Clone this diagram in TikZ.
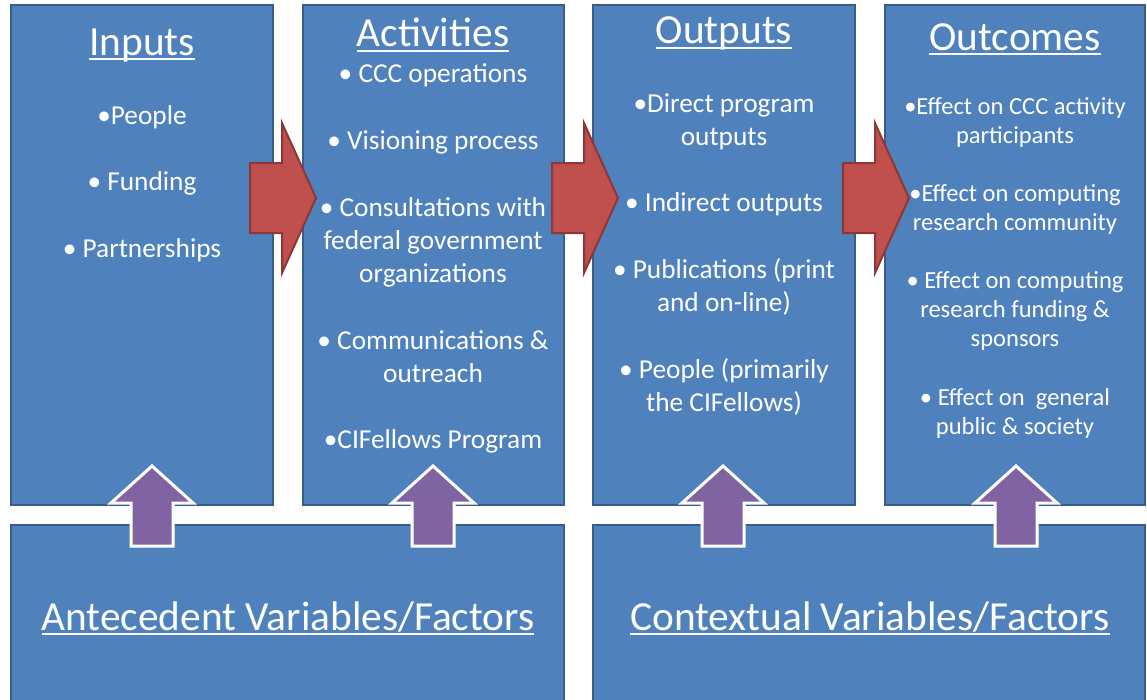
\documentclass[tikz,border=0pt]{standalone}
\usepackage{fontspec}
\setmainfont{Carlito}
\definecolor{boxblue}{HTML}{4F81BD}
\definecolor{boxedge}{HTML}{385D8A}
\definecolor{arrred}{HTML}{C0504D}
\definecolor{arredge}{HTML}{8C3836}
\definecolor{arrpurple}{HTML}{8064A2}
\newcommand{\ttlline}[1]{\setbox0\hbox{#1}\rlap{\rule[-0.13em]{\wd0}{0.055em}}\box0}
\tikzset{
  box/.style={draw=boxedge, fill=boxblue, line width=1.5pt},
  redarrow/.style={draw=arredge, fill=arrred, line width=1.5pt, line join=miter},
  uparrow/.style={draw=white, fill=arrpurple, line width=2.25pt, line join=miter},
  title/.style={anchor=base, text=white, inner sep=0.75pt, font=\fontsize{31}{37}\selectfont},
  item/.style={anchor=base, text=white, align=center, inner sep=0.75pt, font=\fontsize{20.5}{24.75}\selectfont},
  smallitem/.style={item, font=\fontsize{18.4}{21.75}\selectfont}
}
\begin{document}
\begin{tikzpicture}[x=0.75pt,y=0.75pt,yscale=-1,xscale=1]
\useasboundingbox (0,0) rectangle (1147,700);

%Shape: Rectangles of the four stages
\draw[box] (11,5) rectangle (273,505);
\draw[box] (303,5) rectangle (564,505);
\draw[box] (593,5) rectangle (855,505);
\draw[box] (885,5) rectangle (1145,505);
%Shape: Rectangles of the variables
\draw[box] (11,525) rectangle (564,702);
\draw[box] (593,525) rectangle (1145,702);

%Shape: Right Arrows
\foreach \ax in {250,552,843}{
  \draw[redarrow] (\ax,163) -- (\ax+32,163) -- (\ax+32,123) -- (\ax+66,198)
    -- (\ax+32,273) -- (\ax+32,233) -- (\ax,233) -- cycle ;
}
%Shape: Up Arrows
\foreach \ux in {152,433,723,1016}{
  \draw[uparrow] (\ux-21,546) -- (\ux-21,503) -- (\ux-41,503) -- (\ux,466)
    -- (\ux+41,503) -- (\ux+21,503) -- (\ux+21,546) -- cycle ;
}

% Text Node (base = last line)
\node[title] (inputs) at (142,55) {\ttlline{Inputs}};
\node[item] (people) at (142,124) {•People};
\node[item] (funding) at (142,190) {• Funding};
\node[item] (partners) at (142,257) {• Partnerships};

% Text Node
\node[title] (activities) at (433,46.5) {\ttlline{Activities}};
\node[item] (ops) at (433,82) {• CCC operations};
\node[item] (vision) at (433,149) {• Visioning process};
\node[item] (consult) at (433,282) {• Consultations with\\federal government\\organizations};
\node[item] (comms) at (433,382) {• Communications \&\\outreach};
\node[item] (fellows) at (433,448) {•CIFellows Program};

% Text Node
\node[title] (outputs) at (724,43.5) {\ttlline{Outputs}};
\node[item] (direct) at (724,145) {•Direct program\\outputs};
\node[item] (indirect) at (724,211) {• Indirect outputs};
\node[item] (pubs) at (724,311) {• Publications (print\\and on-line)};
\node[item] (persons) at (724,411) {• People (primarily\\the CIFellows)};

% Text Node
\node[title] (outcomes) at (1015,50) {\ttlline{Outcomes}};
\node[smallitem] (effpart) at (1015,143) {•Effect on CCC activity\\participants};
\node[smallitem] (effcomm) at (1015,230) {•Effect on computing\\research community};
\node[smallitem] (efffund) at (1015,346) {• Effect on computing\\research funding \&\\sponsors};
\node[smallitem] (effpub) at (1015,434) {• Effect on~ general\\public \& society};

% Text Node
\node[title] (antecedent) at (288,630) {\ttlline{Antecedent Variables/Factors}};
\node[title] (contextual) at (870,630) {\ttlline{Contextual Variables/Factors}};
\end{tikzpicture}
\end{document}
